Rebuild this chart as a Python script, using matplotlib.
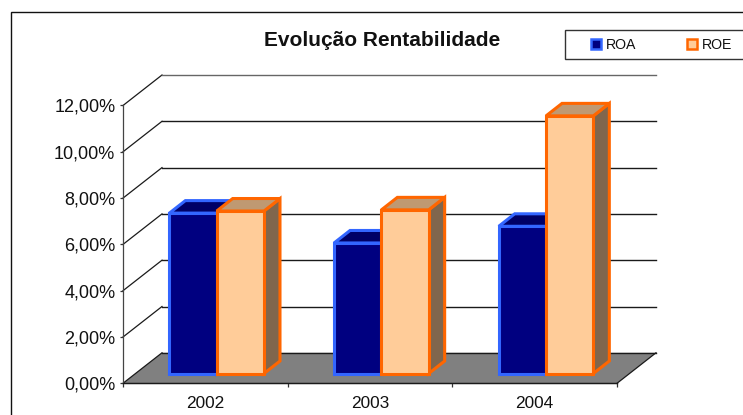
import numpy as np
import matplotlib
matplotlib.use('Agg')
import matplotlib.pyplot as plt
from matplotlib.lines import Line2D
from matplotlib.patches import Polygon, Rectangle

plt.rcParams['font.family'] = ['Liberation Sans', 'DejaVu Sans']

years = ['2002', '2003', '2004']
roa = [6.93, 5.64, 6.36]
roe = [7.02, 7.07, 11.13]
yticks = [0, 2, 4, 6, 8, 10, 12]

W, H = 743, 415
# front plane of the box, in pixels
left, right, top, bottom = 123, 617, 105.5, 383.3

fig = plt.figure(figsize=(W/100, H/100), dpi=100)
fig.add_artist(Rectangle((10.5/W, 1-440/H), 770/W, (440-11.5)/H, transform=fig.transFigure,
                         fc='none', ec='#111111', lw=1, zorder=-1))
fig.add_artist(Rectangle((564.5/W, 1-59.5/H), 200/W, 29.5/H, transform=fig.transFigure,
                         fc='white', ec='#333333', lw=1, zorder=-1))
ax = fig.add_axes([left/W, 1-bottom/H, (right-left)/W, (bottom-top)/H])
ax.set_xlim(0, 3)
ax.set_ylim(0, 12)
ax.patch.set_visible(False)

# depth of the box in data units
dx = 39/((right-left)/3)
dy = 30.5/((bottom-top)/12)

# floor and walls
ax.add_patch(Polygon([(0, 0), (3, 0), (3+dx, dy), (dx, dy)], fc='#808080', ec='none', clip_on=False, zorder=1))
for v in yticks:
    c = '#666666' if v == 12 else '#1a1a1a'
    ax.plot([0, dx], [v, v+dy], color='#1a1a1a', lw=0.9, clip_on=False, zorder=1.5)
    ax.plot([dx, 3+dx], [v+dy, v+dy], color=c, lw=1, clip_on=False, zorder=1.5)
ax.plot([0, 3], [0, 0], color='#1a1a1a', lw=1, clip_on=False, zorder=1.5)
ax.plot([3, 3+dx], [0, dy], color='#1a1a1a', lw=0.9, clip_on=False, zorder=1.5)


def bars3d(xs, vals, width, fill, edge, top_c, side_c, z):
    # front faces stand 1/3 of the way into the box
    d0 = 0.32
    d1 = 0.73
    x0 = np.array(xs) + d0*dx
    y0 = d0*dy
    ddx = (d1-d0)*dx
    ddy = (d1-d0)*dy
    for x, v in zip(x0, vals):
        ax.add_patch(Polygon([(x+width, y0), (x+width+ddx, y0+ddy), (x+width+ddx, y0+v+ddy), (x+width, y0+v)],
                             fc=side_c, ec=edge, lw=2.2, joinstyle='miter', clip_on=False, zorder=z))
        ax.add_patch(Polygon([(x, y0+v), (x+width, y0+v), (x+width+ddx, y0+v+ddy), (x+ddx, y0+v+ddy)],
                             fc=top_c, ec=edge, lw=2.2, joinstyle='miter', clip_on=False, zorder=z))
    ax.bar(x0, vals, width, bottom=y0, align='edge', color=fill, edgecolor=edge, lw=2.2,
           clip_on=False, zorder=z+0.1)


pos = np.arange(3)
bw = 47.3/((right-left)/3)
start = 0.206
bars3d(pos+start, roa, bw, '#000080', '#3366FF', '#000066', '#000040', 3)
bars3d(pos+start+bw, roe, bw, '#FFCC99', '#FF6600', '#BF9972', '#80664D', 4)

ax.set_yticks(yticks)
ax.set_yticklabels([('%.2f%%' % v).replace('.', ',') for v in yticks])
ax.set_xticks([0, 1, 2, 3])
ax.set_xticks([0.5, 1.5, 2.5], minor=True)
ax.set_xticklabels([])
ax.set_xticklabels(years, minor=True)
ax.tick_params(axis='y', labelsize=13, length=2.5, width=0.9, pad=3, color='#333333', labelcolor='#111111')
ax.tick_params(axis='x', which='major', length=3, width=0.9, color='#333333')
ax.tick_params(axis='x', which='minor', length=0, labelsize=12.4, pad=9, labelcolor='#111111')
for s in ['top', 'right']:
    ax.spines[s].set_visible(False)
ax.spines['left'].set_color('#444444')
ax.spines['left'].set_linewidth(0.9)
ax.spines['bottom'].set_color('#1a1a1a')

fig.text(382/W, 1-41/H, 'Evolução Rentabilidade', ha='center', va='center', fontsize=15, fontweight='bold', color='#111111')

handles = [Line2D([], [], ls='none', marker='s', ms=7, mfc='#000080', mec='#3366FF', mew=1.8),
           Line2D([], [], ls='none', marker='s', ms=7, mfc='#FFCC99', mec='#FF6600', mew=1.8)]
leg = fig.legend(handles, ['ROA', 'ROE'], ncol=2, loc='center left', bbox_to_anchor=(588/W, 1-45/H),
                 bbox_transform=fig.transFigure, borderaxespad=0, borderpad=0, fontsize=10.2, frameon=False,
                 handlelength=1.1, handletextpad=0.15, columnspacing=3.4)
for t in leg.get_texts():
    t.set_color('#111111')

fig.savefig('out.png', dpi=100)
